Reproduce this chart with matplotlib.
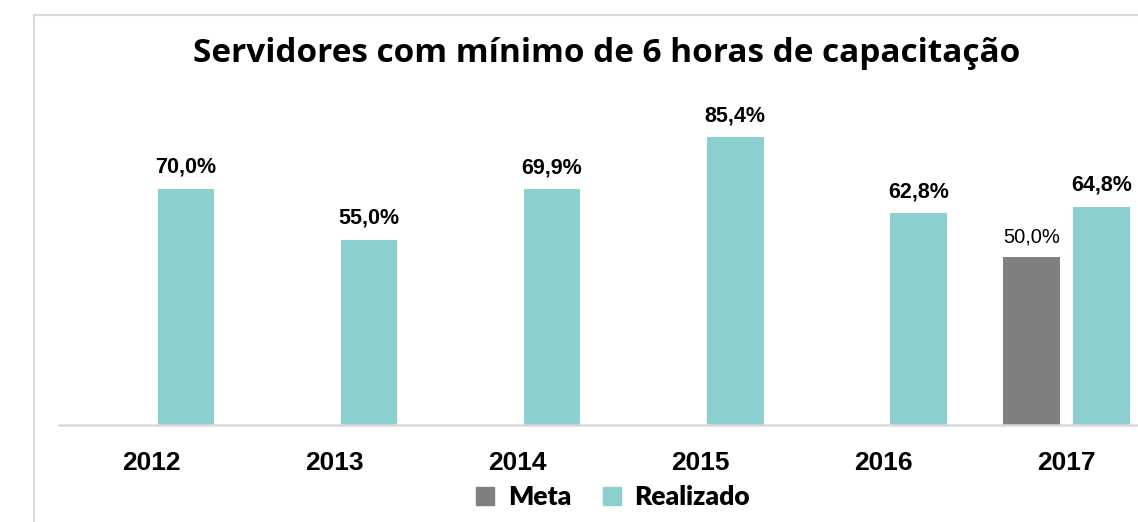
import numpy as np
import matplotlib
matplotlib.use("Agg")
import matplotlib.pyplot as plt
import matplotlib.patches as patches
from matplotlib.lines import Line2D

# data
anos = ["2012", "2013", "2014", "2015", "2016", "2017"]
meta = [np.nan, np.nan, np.nan, np.nan, np.nan, 50.0]
realizado = [70.0, 55.0, 69.9, 85.4, 62.8, 64.8]

titulo = "Servidores com mínimo de 6 horas de capacitação"
cor_meta = "#7f7f7f"
cor_real = "#8ccfcf"
cor_linha = "#d9d9d9"

W, H = 1138, 522
fig = plt.figure(figsize=(W / 100, H / 100), dpi=100)

# frame of the chart area (light grey, cropped on right/bottom)
fig.add_artist(Line2D([34 / W, 34 / W], [0, 1 - 15 / H], color=cor_linha, lw=1.5,
                      transform=fig.transFigure))
fig.add_artist(Line2D([34 / W, 1], [1 - 15 / H, 1 - 15 / H], color=cor_linha, lw=1.5,
                      transform=fig.transFigure))

ax = fig.add_axes([59 / W, (H - 425) / H, 1 - 59 / W, 337 / H])
x = np.arange(len(anos))
larg = 0.31
desl = 0.19
b1 = ax.bar(x - desl, meta, larg, color=cor_meta)
b2 = ax.bar(x + desl, realizado, larg, color=cor_real)

for xi, v in zip(x, meta):
    if not np.isnan(v):
        ax.annotate(f"{v:.1f}%".replace(".", ","), (xi - desl, v), xytext=(0, 7),
                    textcoords="offset points", ha="center", va="bottom",
                    fontsize=14.5, family="Liberation Sans")
for xi, v in zip(x, realizado):
    ax.annotate(f"{v:.1f}%".replace(".", ","), (xi + desl, v), xytext=(0, 8),
                textcoords="offset points", ha="center", va="bottom",
                fontsize=15.5, fontweight="bold", family="Liberation Sans")

ax.set_xlim(-0.503, 5.39)
ax.set_ylim(0, 100)
ax.set_xticks(x)
ax.set_xticklabels(anos, fontsize=19, fontweight="bold", family="Liberation Sans")
ax.tick_params(axis="x", length=0, pad=19)
ax.set_yticks([])
for s in ["top", "right", "left"]:
    ax.spines[s].set_visible(False)
ax.spines["bottom"].set_color(cor_linha)
ax.spines["bottom"].set_linewidth(1.8)

fig.text(607 / W, 1 - 53 / H, titulo, ha="center", va="center",
         fontsize=24, fontweight="bold", family="Open Sans")

handles = [patches.Patch(color=cor_meta, label="Meta"),
           patches.Patch(color=cor_real, label="Realizado")]
fig.legend(handles=handles, loc="center", bbox_to_anchor=(613 / W, 1 - 497 / H),
           ncol=2, frameon=False, handlelength=0.7, handleheight=0.7,
           handletextpad=0.5, columnspacing=1.2,
           prop={"family": "Lato", "weight": "heavy", "size": 19})

fig.savefig("out.png", dpi=100)
